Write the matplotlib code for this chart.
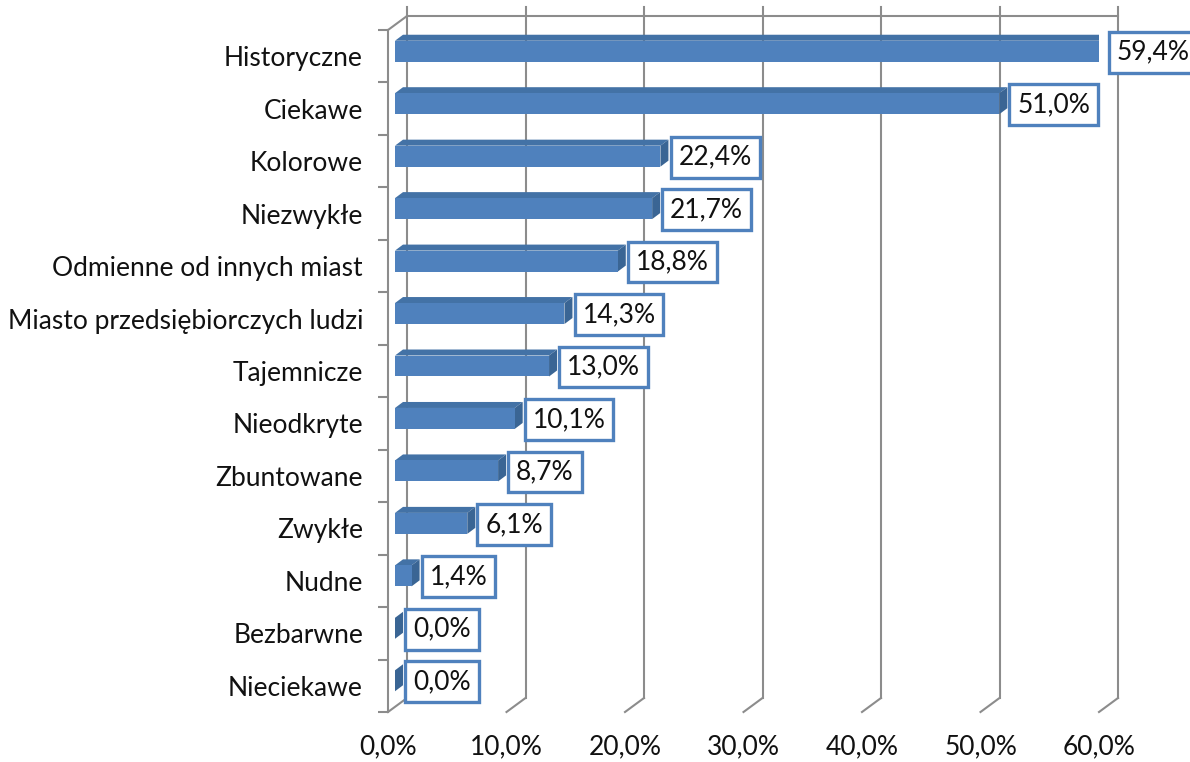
import numpy as np
import matplotlib.pyplot as plt
from matplotlib.patches import Polygon

kategorie = ['Historyczne', 'Ciekawe', 'Kolorowe', 'Niezwykłe',
             'Odmienne od innych miast', 'Miasto przedsiębiorczych ludzi',
             'Tajemnicze', 'Nieodkryte', 'Zbuntowane', 'Zwykłe', 'Nudne',
             'Bezbarwne', 'Nieciekawe']
wartosci = [59.4, 51.0, 22.4, 21.7, 18.8, 14.3, 13.0, 10.1, 8.7, 6.1, 1.4, 0.0, 0.0]
x_ticks = [0, 10, 20, 30, 40, 50, 60]

plt.rcParams['font.family'] = ['Lato', 'DejaVu Sans']

W, H = 1190, 762
fig = plt.figure(figsize=(W / 100, H / 100), dpi=100)
# przednia płaszczyzna osi (piksele: x 388..1099, y 30..712)
ax = fig.add_axes([388 / W, 50 / H, 711 / W, 682 / H])
n = len(kategorie)
ax.set_xlim(0, 60)
ax.set_ylim(n - 0.5, -0.5)

# przeliczenie pikseli na jednostki danych (efekt 3D)
ux = 60 / 711
uy = n / 682
back_dx, back_dy = 19 * ux, 14 * uy      # tylna ściana
bar_fx, bar_fy = 7 * ux, 5 * uy          # przód słupka
bar_ex, bar_ey = 8 * ux, 6 * uy          # głębokość słupka
grey = '#8C8C8C'

# tylna ściana: linie siatki
y_lo, y_hi = n - 0.5, -0.5
for t in x_ticks:
    ax.plot([t + back_dx, t + back_dx], [y_lo - back_dy, y_hi - back_dy - 9 * uy],
            color=grey, lw=1.5, clip_on=False, zorder=1)
    ax.plot([t, t + back_dx], [y_lo, y_lo - back_dy],
            color=grey, lw=1.5, clip_on=False, zorder=1)
ax.plot([back_dx, 60 + back_dx], [y_hi - back_dy, y_hi - back_dy],
        color=grey, lw=1.5, clip_on=False, zorder=1)
ax.plot([0, back_dx], [y_hi, y_hi - back_dy], color=grey, lw=1.5,
        clip_on=False, zorder=1)

# słupki 3D
y = np.arange(n)
h = 0.40
yc = y - bar_fy
ax.barh(yc, wartosci, left=bar_fx, height=h, color='#4F81BD', zorder=4)
for v, c in zip(wartosci, yc):
    x0, x1 = bar_fx, bar_fx + v
    yt, yb = c - h / 2, c + h / 2
    top = Polygon([(x0, yt), (x1, yt), (x1 + bar_ex, yt - bar_ey), (x0 + bar_ex, yt - bar_ey)],
                  closed=True, facecolor='#4372A6', edgecolor='none', zorder=3)
    cap = Polygon([(x1, yt), (x1, yb), (x1 + bar_ex, yb - bar_ey), (x1 + bar_ex, yt - bar_ey)],
                  closed=True, facecolor='#3A6594', edgecolor='none', zorder=3)
    ax.add_patch(top)
    ax.add_patch(cap)
    ax.text(x1 + bar_ex + 10 * ux, c + 1 * uy, f'{v:.1f}%'.replace('.', ','),
            ha='left', va='center', fontsize=19, color='#111111', zorder=6,
            clip_on=False,
            bbox=dict(boxstyle='square,pad=0.3', facecolor='white',
                      edgecolor='#4F81BD', linewidth=2.4))

# osie
for s in ['top', 'right', 'bottom']:
    ax.spines[s].set_visible(False)
ax.spines['left'].set_color(grey)
ax.spines['left'].set_linewidth(1.5)

ax.set_yticks(y)
ax.set_yticklabels(kategorie, fontsize=19, color='#111111')
ax.set_yticks(np.arange(n + 1) - 0.5, minor=True)
ax.tick_params(axis='y', which='major', length=0, pad=18)
ax.tick_params(axis='y', which='minor', length=7.5, width=1.5, color=grey)

ax.set_xticks(x_ticks)
ax.set_xticklabels([f'{t:.1f}%'.replace('.', ',') for t in x_ticks],
                   fontsize=19, color='#111111')
ax.tick_params(axis='x', length=0, pad=16)
ax.patch.set_alpha(0)

fig.savefig('out.png', dpi=100)
